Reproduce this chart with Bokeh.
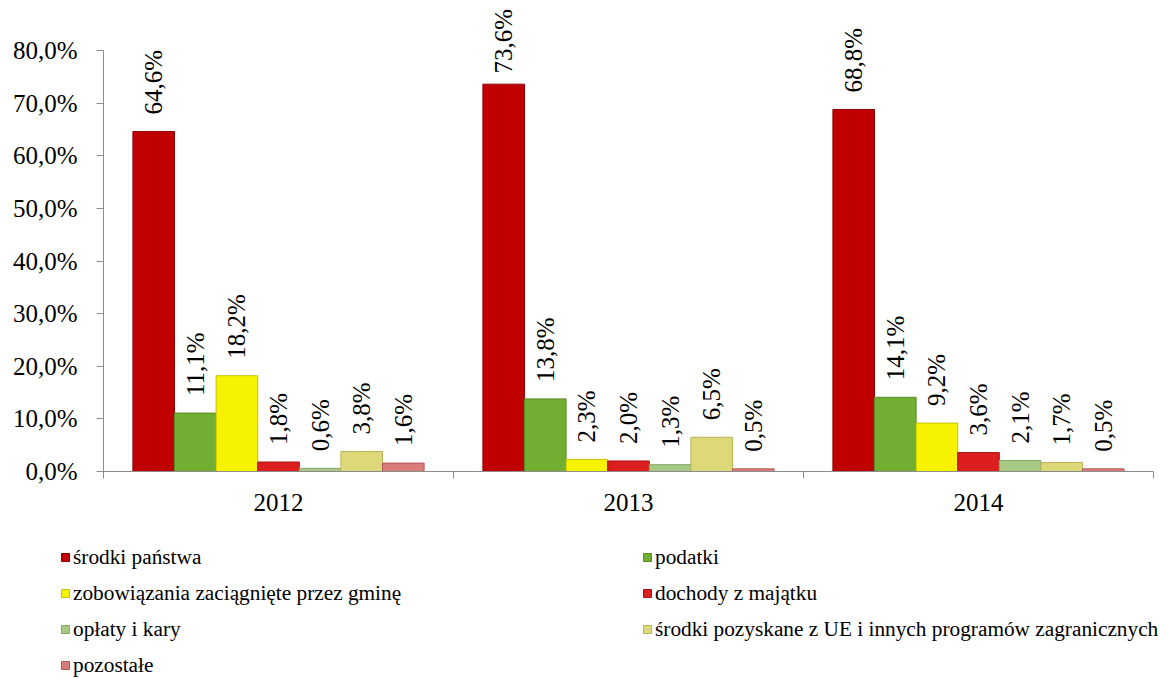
import math
from bokeh.plotting import figure
from bokeh.models import (FixedTicker, Legend, LegendItem, ColumnDataSource, Range1d)
from bokeh.core.properties import value
from bokeh.embed import file_html
from bokeh.resources import INLINE

# ---------------- data ----------------
years = ["2012", "2013", "2014"]
series_names = [
    "środki państwa",
    "podatki",
    "zobowiązania zaciągnięte przez gminę",
    "dochody z majątku",
    "opłaty i kary",
    "środki pozyskane z UE i innych programów zagranicznych",
    "pozostałe",
]
srodki_panstwa = [64.6, 73.6, 68.8]
podatki = [11.1, 13.8, 14.1]
zobowiazania = [18.2, 2.3, 9.2]
dochody_z_majatku = [1.8, 2.0, 3.6]
oplaty_i_kary = [0.6, 1.3, 2.1]
srodki_ue = [3.8, 6.5, 1.7]
pozostale = [1.6, 0.5, 0.5]
series_values = [srodki_panstwa, podatki, zobowiazania, dochody_z_majatku,
                 oplaty_i_kary, srodki_ue, pozostale]
y_ticks = [0, 10, 20, 30, 40, 50, 60, 70, 80]
y_tick_labels = ["0,0%", "10,0%", "20,0%", "30,0%", "40,0%", "50,0%",
                 "60,0%", "70,0%", "80,0%"]

# ---------------- style / layout ----------------
fill_colors = ["#C00000", "#72AE32", "#F7F200", "#DC1E1E", "#A8C886", "#DDD878", "#DA7C7C"]
line_colors = ["#8E0000", "#5A8C24", "#C8C000", "#A81414", "#88A86A", "#B8B258", "#B05858"]
FONT = "Liberation Serif"
AXIS_COLOR = "#8C8C8C"

W, H = 1168, 679
# pixel geometry of the plotting area (canvas coordinates)
AX_LEFT_PX, AX_RIGHT_PX = 103, 1153
AX_ZERO_PX, AX_80_PX = 471, 50
n_groups = len(years)
px_per_x = (AX_RIGHT_PX - AX_LEFT_PX) / n_groups
px_per_y = (AX_ZERO_PX - AX_80_PX) / 80.0
x_start = -AX_LEFT_PX / px_per_x
x_end = n_groups + (W - AX_RIGHT_PX) / px_per_x
y_end = AX_ZERO_PX / px_per_y
y_start = -(H - AX_ZERO_PX) / px_per_y

p = figure(width=W, height=H, x_range=Range1d(x_start, x_end),
           y_range=Range1d(y_start, y_end),
           output_backend="svg", toolbar_location=None,
           min_border_left=0, min_border_right=0,
           min_border_top=0, min_border_bottom=0)
p.outline_line_color = None
p.xgrid.visible = False
p.ygrid.visible = False
p.background_fill_color = "white"
p.border_fill_color = "white"

n_series = len(series_names)
bar_w = 41.6 / px_per_x
label_len_px = 64
label_top_limit = 9

items = []
for i, (name, vals) in enumerate(zip(series_names, series_values)):
    xs = [g + 0.5 + (i - (n_series - 1) / 2) * bar_w for g in range(n_groups)]
    labels = [("%.1f%%" % v).replace(".", ",") for v in vals]
    offsets = []
    for v in vals:
        sy = AX_ZERO_PX - v * px_per_y
        offsets.append(-min(17.0, sy - label_len_px - label_top_limit))
    src = ColumnDataSource(dict(x=xs, top=vals, label=labels, yoff=offsets))
    r = p.vbar(x="x", top="top", bottom=0, width=bar_w, source=src,
               fill_color=fill_colors[i], line_color=line_colors[i], line_width=1)
    p.text(x="x", y="top", text="label", source=src, angle=math.pi / 2,
           text_align="left", text_baseline="middle", y_offset="yoff",
           text_font=value(FONT), text_font_size="25px", text_color="black")
    items.append(LegendItem(label=name, renderers=[r]))

# y axis (fixed at x = 0)
ya = p.yaxis[0]
ya.fixed_location = 0
ya.ticker = FixedTicker(ticks=y_ticks)
ya.major_label_overrides = {t: l for t, l in zip(y_ticks, y_tick_labels)}
ya.bounds = (0, 80)
ya.axis_line_color = AXIS_COLOR
ya.major_tick_line_color = AXIS_COLOR
ya.major_tick_out = 7
ya.major_tick_in = 0
ya.minor_tick_line_color = None
ya.major_label_standoff = 19
ya.major_label_text_font = FONT
ya.major_label_text_font_size = "25px"
ya.major_label_text_color = "black"

# x axis (fixed at y = 0)
xa = p.xaxis[0]
xa.fixed_location = 0
centers = [g + 0.5 for g in range(n_groups)]
xa.ticker = FixedTicker(ticks=centers, minor_ticks=list(range(n_groups + 1)))
xa.major_label_overrides = {c: y for c, y in zip(centers, years)}
xa.bounds = (0, n_groups)
xa.axis_line_color = AXIS_COLOR
xa.major_tick_line_color = None
xa.major_tick_out = 0
xa.major_tick_in = 0
xa.minor_tick_line_color = AXIS_COLOR
xa.minor_tick_out = 7
xa.minor_tick_in = 0
xa.major_label_standoff = 15
xa.major_label_text_font = FONT
xa.major_label_text_font_size = "25px"
xa.major_label_text_color = "black"

legend = Legend(items=items, location=(60, 1), orientation="horizontal", ncols=2,
                label_text_font=FONT, label_text_font_size="21.3px", label_text_color="black",
                glyph_width=10, glyph_height=10, label_standoff=3, spacing=10,
                padding=0, margin=0, border_line_color=None, background_fill_alpha=0,
                label_width=559, label_height=26)
p.add_layout(legend, "center")

open("out.html", "w").write(file_html(p, INLINE))
